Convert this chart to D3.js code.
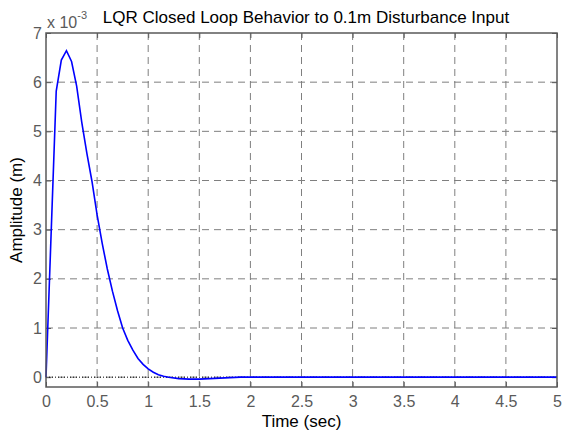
<!DOCTYPE html>
<html>
<head>
<meta charset="utf-8">
<script src="https://cdn.jsdelivr.net/npm/d3@7"></script>
<style>
  body { margin: 0; background: #fff; }
  svg { font-family: "Liberation Sans", Arial, sans-serif; }
</style>
</head>
<body>
<div class="chart"></div>
<script>
// response samples (time in sec, amplitude in units of 1e-3 m)
const times = [0, 0.1, 0.15, 0.2, 0.25, 0.3, 0.35, 0.4, 0.45, 0.5, 0.55, 0.6, 0.65, 0.7, 0.75, 0.8, 0.85, 0.9, 0.95, 1.0,
    1.05, 1.1, 1.15, 1.2, 1.3, 1.4, 1.5, 1.6, 1.7, 1.8, 1.9, 2, 2.5, 3, 3.5, 4, 4.5, 5];
const amplitudes = [0, 5.82, 6.45, 6.64, 6.42, 5.92, 5.18, 4.55, 3.98, 3.3, 2.72, 2.2, 1.75, 1.35, 1.0, 0.75, 0.55, 0.38, 0.26, 0.17,
    0.1, 0.05, 0.02, 0.0, -0.03, -0.04, -0.04, -0.03, -0.02, -0.01, 0, 0, 0, 0, 0, 0, 0, 0];
const xTicks = [0, 0.5, 1, 1.5, 2, 2.5, 3, 3.5, 4, 4.5, 5];
const yTicks = [0, 1, 2, 3, 4, 5, 6, 7];

const W = 563, H = 432;
const margin = { top: 33, right: 6, bottom: 45, left: 46 };
const width = W - margin.left - margin.right;
const height = H - margin.top - margin.bottom;

const data = times.map((t, i) => ({ t: t, v: amplitudes[i] }));

const x = d3.scaleLinear().domain([0, 5]).range([0, width]);
const y = d3.scaleLinear().domain([-0.2, 7]).range([height, 0]);

const svg = d3.select(".chart")
    .append("svg")
    .attr("width", W)
    .attr("height", H);

const g = svg.append("g")
    .attr("transform", `translate(${margin.left},${margin.top})`);

// grid
g.append("g")
    .selectAll("line")
    .data(xTicks.slice(1, -1))
    .join("line")
    .attr("x1", d => x(d)).attr("x2", d => x(d))
    .attr("y1", 0).attr("y2", height)
    .attr("stroke", "#7f7f7f")
    .attr("stroke-dasharray", "7,5");

g.append("g")
    .selectAll("line")
    .data(yTicks.slice(0, -1))
    .join("line")
    .attr("x1", 0).attr("x2", width)
    .attr("y1", d => y(d)).attr("y2", d => y(d))
    .attr("stroke", "#7f7f7f")
    .attr("stroke-dasharray", "7,5");

// axes
const tickColor = "#5a5a5a";
const xAxis = d3.axisBottom(x).tickValues(xTicks).tickSize(-5).tickPadding(9).tickFormat(d3.format("~g"));
const yAxis = d3.axisLeft(y).tickValues(yTicks).tickSize(-5).tickPadding(4).tickFormat(d3.format("d"));
const xTop = d3.axisTop(x).tickValues(xTicks).tickSize(-5).tickFormat("");
const yRight = d3.axisRight(y).tickValues(yTicks).tickSize(-5).tickFormat("");

function styleAxis(sel) {
    sel.select(".domain").remove();
    sel.selectAll("line").attr("stroke", tickColor);
    sel.selectAll("text").attr("fill", tickColor).style("font-size", "16px")
        .style("font-family", "'Liberation Sans', Arial, sans-serif");
}

g.append("g").attr("transform", `translate(0,${height})`).call(xAxis).call(styleAxis);
g.append("g").call(yAxis).call(styleAxis);
g.append("g").call(xTop).call(styleAxis);
g.append("g").attr("transform", `translate(${width},0)`).call(yRight).call(styleAxis);

// zero reference line
g.append("line")
    .attr("x1", x(0)).attr("x2", x(5))
    .attr("y1", y(0)).attr("y2", y(0))
    .attr("stroke", "#000")
    .attr("stroke-width", 1)
    .attr("stroke-dasharray", "1,2");

// response
const line = d3.line().x(d => x(d.t)).y(d => y(d.v));
g.append("path")
    .datum(data)
    .attr("d", line)
    .attr("fill", "none")
    .attr("stroke", "#0000ff")
    .attr("stroke-width", 1.6);

// box
g.append("rect")
    .attr("width", width).attr("height", height)
    .attr("fill", "none")
    .attr("stroke", tickColor)
    .attr("stroke-width", 1.5);

// exponent label
const ex = svg.append("text")
    .attr("x", 47).attr("y", 28)
    .attr("fill", tickColor)
    .style("font-size", "16px");
ex.append("tspan").text("x 10");
ex.append("tspan").attr("dy", -9).style("font-size", "11px").text("-3");

// title
svg.append("text")
    .attr("x", 306).attr("y", 23)
    .attr("text-anchor", "middle")
    .style("font-size", "17px")
    .text("LQR Closed Loop Behavior to 0.1m Disturbance Input");

// axis labels
svg.append("text")
    .attr("x", margin.left + width / 2).attr("y", 427)
    .attr("text-anchor", "middle")
    .style("font-size", "17px")
    .text("Time (sec)");

svg.append("text")
    .attr("transform", `translate(22,${margin.top + height / 2}) rotate(-90)`)
    .attr("text-anchor", "middle")
    .style("font-size", "17px")
    .text("Amplitude (m)");
</script>
</body>
</html>
